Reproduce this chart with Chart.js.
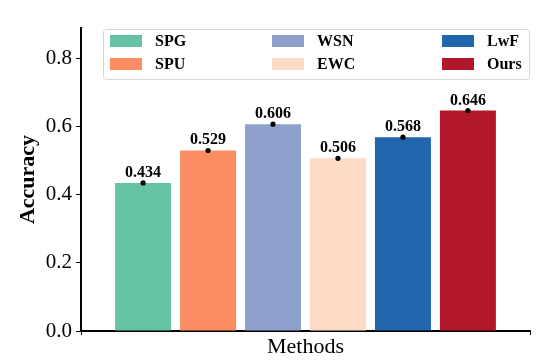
<!DOCTYPE html>
<html>
<head>
<meta charset="utf-8">
<script src="https://cdn.jsdelivr.net/npm/chart.js@4"></script>
<style>
  html, body { margin: 0; padding: 0; background: #fff; }
  #wrap { width: 540px; height: 360px; }
</style>
</head>
<body>
<div id="wrap"><canvas id="chart" width="540" height="360"></canvas></div>
<script>
// data
const methods = ['SPG', 'SPU', 'WSN', 'EWC', 'LwF', 'Ours'];
const accuracy = [0.434, 0.529, 0.606, 0.506, 0.568, 0.646];
const colors = ['#66c2a5', '#fc8d62', '#8da0cb', '#fddbc7', '#2166ac', '#b2182b'];
const yTicks = [0.0, 0.2, 0.4, 0.6, 0.8];
// legend is laid out column by column, 2 rows
const legendRows = 2;

const serif = '"Liberation Serif", "Times New Roman", serif';

// dots + value labels above each bar
const valuePlugin = {
  id: 'values',
  afterDatasetsDraw(chart){
    const ctx = chart.ctx;
    ctx.save();
    chart.data.datasets.forEach((ds, i)=>{
      const bar = chart.getDatasetMeta(i).data[0];
      if (!bar) return;
      ctx.fillStyle = '#000';
      ctx.beginPath(); ctx.arc(bar.x, bar.y, 2.6, 0, Math.PI*2); ctx.fill();
      ctx.font = 'bold 16px ' + serif;
      ctx.textAlign = 'center';
      ctx.textBaseline = 'alphabetic';
      ctx.fillText(ds.data[0].toFixed(3), bar.x, bar.y - 6);
    });
    ctx.restore();
  }
};

// matplotlib style legend with 3 columns
const legendPlugin = {
  id: 'mplLegend',
  afterDraw(chart){
    const ctx = chart.ctx;
    const box = { x: 103.5, y: 29.5, w: 426, h: 50 };
    const colX = [110, 272, 442];
    const rowY = [35, 58];
    ctx.save();
    ctx.fillStyle = 'rgba(255,255,255,0.8)';
    ctx.strokeStyle = '#d6d6d6';
    ctx.lineWidth = 1;
    ctx.beginPath();
    ctx.roundRect(box.x, box.y, box.w, box.h, 3);
    ctx.fill(); ctx.stroke();
    ctx.font = 'bold 16px ' + serif;
    ctx.textBaseline = 'middle';
    ctx.textAlign = 'left';
    methods.forEach((m, i)=>{
      const c = Math.floor(i / legendRows), r = i % legendRows;
      ctx.fillStyle = colors[i];
      ctx.fillRect(colX[c], rowY[r], 32, 12);
      ctx.fillStyle = '#000';
      ctx.fillText(m, colX[c] + 45, rowY[r] + 7);
    });
    ctx.restore();
  }
};

const ctx = document.getElementById('chart').getContext('2d');
new Chart(ctx, {
  type: 'bar',
  data: {
    labels: ['Methods'],
    datasets: methods.map((m, i)=>({
      label: m,
      data: [accuracy[i]],
      backgroundColor: colors[i],
      borderWidth: 0,
      categoryPercentage: 0.868,
      barPercentage: 0.862
    }))
  },
  options: {
    responsive: false,
    animation: false,
    devicePixelRatio: 1,
    layout: { padding: { left: 0, right: 10, top: 28, bottom: 0 } },
    plugins: {
      legend: { display: false },
      tooltip: { enabled: false }
    },
    scales: {
      x: {
        grid: { display: true, drawOnChartArea: false, drawTicks: true, tickLength: 4, color: '#000', tickWidth: 1 },
        border: { display: true, color: '#000', width: 2 },
        ticks: { display: false },
        title: { display: true, text: 'Methods', color: '#000', font: { family: serif, size: 22 }, padding: { top: 0, bottom: 0 } },
        afterFit(scale){ scale.height = 29; }
      },
      y: {
        min: 0,
        max: 0.888,
        grid: { display: true, drawOnChartArea: false, drawTicks: true, tickLength: 5, color: '#000', tickWidth: 1 },
        border: { display: true, color: '#000', width: 2 },
        afterBuildTicks(scale){ scale.ticks = yTicks.map(v=>({ value: v })); },
        ticks: {
          color: '#000',
          font: { family: serif, size: 21 },
          padding: 4,
          callback: v => Number(v).toFixed(1)
        },
        title: { display: true, text: 'Accuracy', color: '#000', font: { family: serif, size: 22, weight: 'bold' }, padding: { top: 15, bottom: 0 } },
        afterFit(scale){ scale.width = 81; }
      }
    }
  },
  plugins: [valuePlugin, legendPlugin]
});
</script>
</body>
</html>
